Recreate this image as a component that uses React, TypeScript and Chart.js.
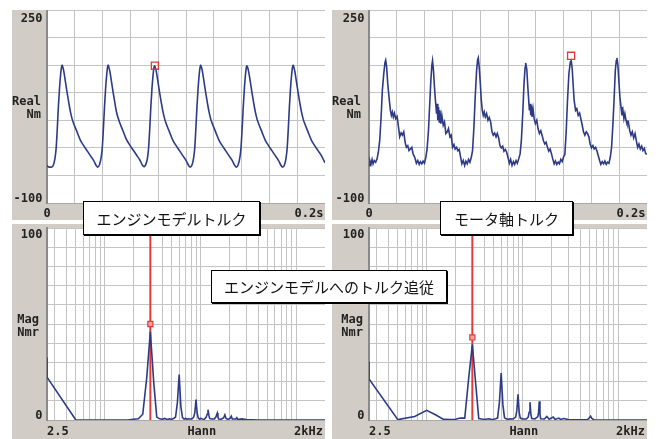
import React, { useEffect, useRef } from "react";
import { Chart, registerables } from "chart.js";

Chart.register(...registerables);

// ---------------- data ----------------
// Engine model torque (time in ms, torque in Nm)
const engineTorque: [number, number][] = [
  [0, -32], [1.5, -35],
  [3.3, -35], [4.6, -31], [5.8, -18], [6.6, 0], [7.4, 35], [8.2, 75], [9.0, 108], [9.8, 133], [10.4, 146], [10.8, 150],
  [11.2, 148], [12.0, 140], [13.2, 121], [14.4, 101], [15.6, 83], [16.8, 66], [18.0, 53], [19.2, 44], [21.6, 29], [24.0, 14], [26.4, 4], [28.8, -5], [31.2, -14], [33.6, -23], [35.4, -32],
  [36.5, -35], [37.8, -30], [39.0, -17], [39.8, 1], [40.6, 36], [41.4, 76], [42.2, 109], [43.0, 134], [43.6, 147], [44.0, 150],
  [44.4, 147], [45.2, 139], [46.4, 120], [47.6, 100], [48.8, 82], [50.0, 65], [51.2, 54], [52.4, 45], [54.8, 30], [57.2, 15], [59.6, 5], [62.0, -4], [64.4, -13], [66.8, -22], [68.6, -31],
  [69.8, -34], [71.1, -30], [72.3, -18], [73.1, 0], [73.9, 34], [74.7, 74], [75.5, 107], [76.3, 132], [76.9, 145], [77.3, 149],
  [77.7, 147], [78.5, 140], [79.7, 122], [80.9, 102], [82.1, 84], [83.3, 67], [84.5, 54], [85.7, 44], [88.1, 29], [90.5, 14], [92.9, 4], [95.3, -5], [97.7, -14], [100.1, -23], [101.9, -32],
  [103.0, -35], [104.3, -31], [105.5, -18], [106.3, 0], [107.1, 35], [107.9, 75], [108.7, 108], [109.5, 133], [110.1, 146], [110.5, 150],
  [110.9, 148], [111.7, 140], [112.9, 121], [114.1, 101], [115.3, 83], [116.5, 66], [117.7, 53], [118.9, 44], [121.3, 29], [123.7, 14], [126.1, 4], [128.5, -5], [130.9, -14], [133.3, -23], [135.1, -32],
  [136.3, -35], [137.6, -30], [138.8, -17], [139.6, 1], [140.4, 36], [141.2, 75], [142.0, 108], [142.8, 133], [143.4, 146], [143.8, 149],
  [144.2, 147], [145.0, 139], [146.2, 121], [147.4, 101], [148.6, 83], [149.8, 66], [151.0, 53], [152.2, 44], [154.6, 29], [157.0, 14], [159.4, 4], [161.8, -5], [164.2, -14], [166.6, -23], [168.4, -32],
  [169.5, -35], [170.8, -31], [172.0, -18], [172.8, 0], [173.6, 35], [174.4, 75], [175.2, 108], [176.0, 133], [176.6, 146], [177.0, 150],
  [177.4, 148], [178.2, 140], [179.4, 121], [180.6, 101], [181.8, 83], [183.0, 66], [184.2, 53], [185.4, 44], [187.8, 29], [190.2, 14], [192.6, 4], [195.0, -5], [197.4, -14], [200.0, -27],
];
const engineMarker: [number, number] = [77.6, 149];

// Motor shaft torque (time in ms, torque in Nm)
const motorTorque: [number, number][] = [
  [0, -32], [0.7, -24], [1.4, -30], [2.2, -21], [2.9, -29], [3.8, -23], [4.8, -26], [5.8, -20], [6.7, -8], [7.7, 13], [8.7, 56], [9.6, 104], [10.6, 134], [11.5, 155], [12.0, 159],
  [12.7, 146], [13.5, 116], [14.4, 92], [15.4, 68], [16.1, 59], [16.8, 65], [17.5, 56], [18.3, 63], [19.2, 53], [20.2, 57], [21.2, 38], [22.1, 20], [23.1, 27], [24.0, 23], [25.0, 29], [26.0, 10], [26.9, 1], [27.9, 4], [28.8, -5], [29.8, -2], [30.8, 1], [31.7, -11], [32.9, -17], [34.1, -28], [35.1, -23], [36.1, -30], [37.0, -25], [38.0, -29], [38.9, -24], [39.9, -28], [40.9, -17], [41.8, -2], [42.8, 32], [43.8, 86], [44.5, 122], [45.2, 149], [45.7, 158],
  [46.4, 140], [47.1, 110], [47.8, 86], [48.6, 62], [49.1, 80], [49.5, 50], [50.0, 74], [50.5, 47], [51.0, 68], [51.7, 44], [52.4, 59], [53.4, 41], [54.3, 47], [55.3, 26], [56.3, 29], [57.2, 35], [58.2, 20], [59.1, 23], [60.1, 1], [61.1, 6], [62.0, -2], [63.0, 1], [63.9, -5], [64.9, -3], [65.9, -17], [66.8, -29], [67.8, -23], [68.8, -32], [69.7, -24], [70.7, -29], [71.6, -21], [72.6, -26], [73.6, -17], [74.5, -5], [75.5, 38], [76.4, 92], [77.4, 140], [78.1, 159], [78.6, 163],
  [79.3, 146], [80.1, 116], [80.8, 86], [81.5, 68], [82.2, 59], [82.9, 65], [83.7, 56], [84.6, 62], [85.6, 50], [86.5, 55], [87.5, 47], [88.5, 29], [89.4, 23], [90.4, 27], [91.4, 20], [92.3, 26], [93.3, 18], [94.2, 4], [95.2, 0], [96.2, 3], [97.1, -6], [98.1, -3], [99.0, -8], [100.0, -17], [101.0, -28], [101.9, -21], [102.9, -32], [103.9, -25], [104.8, -30], [105.8, -23], [106.7, -28], [107.7, -20], [108.7, -11], [109.6, 13], [110.6, 62], [111.5, 116], [112.3, 146], [112.7, 154],
  [113.5, 143], [114.2, 113], [114.9, 86], [115.4, 68], [115.9, 80], [116.4, 59], [116.8, 77], [117.3, 56], [118.0, 71], [118.8, 53], [119.7, 44], [120.7, 50], [121.6, 35], [122.6, 26], [123.6, 31], [124.5, 23], [125.5, 13], [126.5, 7], [127.4, 10], [128.4, 1], [129.3, -6], [130.3, -2], [131.3, -11], [132.2, -20], [133.2, -29], [134.1, -24], [135.1, -30], [136.1, -26], [137.0, -29], [138.0, -21], [139.0, -25], [139.9, -17], [140.9, -12], [141.8, 26], [142.8, 86], [143.8, 134], [144.8, 155], [145.5, 158],
  [146.2, 143], [146.9, 113], [147.6, 86], [148.6, 68], [149.5, 71], [150.5, 59], [151.5, 63], [152.4, 53], [153.4, 41], [154.3, 29], [155.3, 23], [156.3, 29], [157.2, 26], [158.2, 20], [159.1, 7], [160.1, 0], [161.1, 4], [162.0, -2], [163.0, 1], [163.9, -5], [164.9, -14], [165.9, -23], [166.8, -30], [167.8, -25], [168.8, -29], [169.7, -24], [170.7, -30], [171.6, -26], [172.6, -28], [173.6, -17], [174.5, 1], [175.5, 44], [176.5, 98], [177.2, 140], [177.9, 158], [178.4, 163],
  [179.1, 149], [179.8, 119], [180.5, 92], [181.3, 74], [182.0, 59], [182.7, 68], [183.4, 53], [184.1, 62], [184.9, 50], [185.6, 44], [186.6, 47], [187.5, 32], [188.5, 23], [189.4, 29], [190.4, 18], [191.4, 26], [192.3, 13], [193.3, 1], [194.2, 7], [195.2, -2], [196.2, 3], [197.1, -5], [198.1, -1], [199.0, -10], [199.8, -12],
];
const motorMarker: [number, number] = [145.4, 167];

// Engine model torque spectrum (Hz, Nmr)
const engineSpectrum: [number, number][] = [
  [2.5, 32.5], [2.5, 22.3], [5, 0], [7.5, 0], [10, 0], [12.5, 0], [15, 0], [17.5, 0], [20, 0.4], [22.5, 0.6], [25, 3], [27.5, 22], [30, 46], [32.5, 20], [35, 1.5],
  [37.5, 0.6], [40, 0.4], [42.5, 0.8], [45, 0.3], [47.5, 0.6], [50, 0.4], [52.5, 0.8], [55, 1.5], [57.5, 9], [60, 23.7], [62.5, 7], [65, 1.2], [67.5, 0.5], [70, 0.8], [72.5, 0.4],
  [75, 0.6], [77.5, 0.5], [80, 0.6], [82.5, 0.8], [85, 1.5], [87.5, 4], [90, 10.7], [92.5, 3.5], [95, 1], [97.5, 0.5], [100, 0.8], [105, 0.5], [110, 0.4], [115, 1.5], [117.5, 3],
  [120, 5.4], [122.5, 2.5], [125, 0.8], [130, 0.5], [140, 0.6], [145, 1.5], [147.5, 2.6], [150, 3.6], [152.5, 1.5], [155, 0.5], [165, 0.4], [175, 1.2], [180, 2.7], [185, 0.8],
  [195, 0.3], [205, 1], [210, 2.0], [215, 0.5], [235, 0.6], [240, 1.2], [245, 0.3], [270, 0.6], [300, 0.2], [400, 0], [2000, 0],
];
const engineSpecMarker: [number, number] = [30, 50];

// Motor shaft torque spectrum (Hz, Nmr)
const motorSpectrum: [number, number][] = [
  [2.5, 30.4], [2.5, 21.4], [5, 0.2], [7.5, 1.8], [10, 5], [12.5, 2.6], [15, 0.3], [17.5, 0.2], [20, 0.4], [22.5, 1.0], [25, 1], [27.5, 22], [30, 39.3], [32.5, 19], [35, 0.8],
  [37.5, 0.5], [40, 0.3], [42.5, 0.5], [45, 0.6], [47.5, 0.3], [50, 0.4], [52.5, 0.6], [55, 1], [57.5, 9], [60, 24.5], [62.5, 8], [65, 1.2], [67.5, 0.6], [70, 0.4], [75, 0.6],
  [80, 0.5], [85, 1.5], [87.5, 5], [90, 13.4], [92.5, 4], [95, 1], [100, 0.6], [110, 0.5], [115, 1.5], [117.5, 4], [120, 9.3], [122.5, 3], [125, 0.8], [135, 0.6], [145, 1.8],
  [147.5, 4], [150, 9.8], [152.5, 3], [155, 0.6], [170, 0.5], [180, 1.8], [190, 0.4], [210, 1.5], [220, 0.3], [240, 1], [250, 0.3], [270, 0.8], [300, 0.2], [350, 0.1],
  [480, 0.2], [500, 1.2], [515, 2], [530, 0.8], [560, 0.1], [2000, 0],
];
const motorSpecMarker: [number, number] = [30, 43];
const cursorFreqHz = 30;

// Axis text and grids
const timeAxisLabels = ["0", "0.2s"];
const realAxisLabels = ["250", "-100"];
const realAxisName = ["Real", "Nm"];
const magAxisLabels = ["100", "0"];
const magAxisName = ["Mag", "Nmr"];
const freqAxisLabels = ["2.5", "Hann", "2kHz"];
const freqGridHz = [3, 4, 5, 6, 7, 8, 9, 10, 20, 30, 40, 50, 60, 70, 80, 90, 100, 200, 300, 400, 500, 600, 700, 800, 900, 1000, 2000];
const annotationTexts = ["エンジンモデルトルク", "モータ軸トルク", "エンジンモデルへのトルク追従"];

// ---------------- styles ----------------
const PANEL_GRAY = "#d1cdc6";
const GRID = "#c4c4c4";
const BLUE = "#2d3a86";
const RED = "#e03c3c";
const TEXT = "#222222";
const LABEL_FONT = 'bold 12px "DejaVu Sans Mono"';

type TextCfg = {
  kind: "time" | "freq";
  yLabels: string[];
  name: string[];
  xLabels: string[];
  nameGap: number;
  yTopBase: number;
  xBase: number;
};

function makeBgPlugin() {
  return {
    id: "panelBg",
    beforeDraw(chart: any) {
      const { ctx, chartArea: a, width, height } = chart;
      ctx.save();
      ctx.fillStyle = PANEL_GRAY;
      ctx.fillRect(0, 0, width, height);
      ctx.fillStyle = "#ffffff";
      ctx.fillRect(a.left, a.top, a.right - a.left, a.bottom - a.top);
      ctx.restore();
    },
  };
}

function makeTextPlugin(cfg: TextCfg) {
  return {
    id: "panelText",
    afterDraw(chart: any) {
      const { ctx, chartArea: a } = chart;
      ctx.save();
      ctx.font = LABEL_FONT;
      ctx.fillStyle = TEXT;
      ctx.textBaseline = "alphabetic";
      ctx.textAlign = "right";
      ctx.fillText(cfg.yLabels[0], a.left - 4.5, a.top + cfg.yTopBase);
      ctx.fillText(cfg.yLabels[1], a.left - 4.5, a.bottom - 1);
      ctx.fillText(cfg.name[0], a.left - cfg.nameGap, a.top + 95);
      ctx.fillText(cfg.name[1], a.left - cfg.nameGap, a.top + 108);
      const xb = a.bottom + cfg.xBase;
      if (cfg.kind === "time") {
        ctx.textAlign = "center";
        ctx.fillText(cfg.xLabels[0], a.left, xb);
        ctx.textAlign = "right";
        ctx.fillText(cfg.xLabels[1], a.right - 1.5, xb);
      } else {
        ctx.textAlign = "left";
        ctx.fillText(cfg.xLabels[0], a.left, xb);
        ctx.textAlign = "center";
        ctx.fillText(cfg.xLabels[1], a.left + (a.right - a.left) * 0.557, xb);
        ctx.textAlign = "right";
        ctx.fillText(cfg.xLabels[2], a.right - 2, xb);
      }
      ctx.restore();
    },
  };
}

const toXY = (pts: [number, number][]) => pts.map(([x, y]) => ({ x, y }));

function timeConfig(points: [number, number][], marker: [number, number], padLeft: number, nameGap: number, smooth: boolean) {
  return {
    type: "line",
    data: {
      datasets: [
        {
          data: toXY([marker]),
          showLine: false,
          pointStyle: "rect",
          pointRadius: 5,
          borderColor: RED,
          borderWidth: 1.3,
          backgroundColor: "rgba(0,0,0,0)",
        },
        {
          data: toXY(points),
          borderColor: BLUE,
          borderWidth: 1.6,
          pointRadius: 0,
          cubicInterpolationMode: smooth ? "monotone" : "default",
          tension: 0,
        },
      ],
    },
    options: {
      responsive: false,
      animation: false,
      events: [],
      layout: { autoPadding: false, padding: { left: padLeft, top: 0, right: 0, bottom: 17 } },
      plugins: { legend: { display: false }, tooltip: { enabled: false } },
      scales: {
        x: {
          type: "linear",
          min: 0,
          max: 200,
          ticks: { display: false, stepSize: 20 },
          grid: { color: GRID, drawTicks: false },
          border: { color: "#a8a8a8" },
        },
        y: {
          type: "linear",
          min: -100,
          max: 250,
          ticks: { display: false, stepSize: 50 },
          grid: { color: GRID, drawTicks: false },
          border: { color: "#8a8a8a", width: 2 },
        },
      },
    },
    plugins: [
      makeBgPlugin(),
      makeTextPlugin({ kind: "time", yLabels: realAxisLabels, name: realAxisName, xLabels: timeAxisLabels, nameGap, yTopBase: 12, xBase: 13.5 }),
    ],
  };
}

function freqConfig(points: [number, number][], marker: [number, number], padLeft: number, nameGap: number) {
  return {
    type: "line",
    data: {
      datasets: [
        {
          data: toXY([marker]),
          showLine: false,
          pointStyle: "rect",
          pointRadius: 3.6,
          borderColor: RED,
          borderWidth: 1.2,
          backgroundColor: "#f3a0a0",
        },
        {
          data: toXY(points),
          borderColor: BLUE,
          borderWidth: 1.6,
          pointRadius: 0,
          tension: 0,
        },
        {
          data: toXY([[cursorFreqHz, 0], [cursorFreqHz, 100]]),
          borderColor: RED,
          borderWidth: 2,
          pointRadius: 0,
        },
      ],
    },
    options: {
      responsive: false,
      animation: false,
      events: [],
      layout: { autoPadding: false, padding: { left: padLeft, top: 4, right: 0, bottom: 19 } },
      plugins: { legend: { display: false }, tooltip: { enabled: false } },
      scales: {
        x: {
          type: "logarithmic",
          min: 2.5,
          max: 2000,
          ticks: { display: false },
          afterBuildTicks: (scale: any) => {
            scale.ticks = freqGridHz.map((v) => ({ value: v }));
          },
          grid: { color: GRID, drawTicks: false },
          border: { color: "#a8a8a8" },
        },
        y: {
          type: "linear",
          min: 0,
          max: 100,
          ticks: { display: false, stepSize: 10 },
          grid: { color: GRID, drawTicks: false },
          border: { color: "#8a8a8a", width: 2 },
        },
      },
    },
    plugins: [
      makeBgPlugin(),
      makeTextPlugin({ kind: "freq", yLabels: magAxisLabels, name: magAxisName, xLabels: freqAxisLabels, nameGap, yTopBase: 10, xBase: 15 }),
    ],
  };
}

type Rect = { x: number; y: number; w: number; h: number };

function PanelChart({ rect, build }: { rect: Rect; build: () => any }) {
  const ref = useRef<HTMLCanvasElement>(null);
  useEffect(() => {
    const chart = new Chart(ref.current as HTMLCanvasElement, build());
    return () => chart.destroy();
  }, []);
  return (
    <canvas
      ref={ref}
      width={rect.w}
      height={rect.h}
      style={{ position: "absolute", left: rect.x, top: rect.y, width: rect.w, height: rect.h }}
    />
  );
}

function Note({ text, x, y, w, h }: { text: string; x: number; y: number; w: number; h: number }) {
  return (
    <div
      style={{
        position: "absolute",
        left: x,
        top: y,
        width: w,
        height: h,
        boxSizing: "border-box",
        border: "1px solid #000",
        boxShadow: "1px 1px 0 #000",
        background: "#fff",
        display: "flex",
        alignItems: "center",
        justifyContent: "center",
        fontFamily: '"Noto Sans CJK JP", sans-serif',
        fontSize: 15,
        color: "#111",
        whiteSpace: "nowrap",
      }}
    >
      {text}
    </div>
  );
}

export default function App() {
  return (
    <div style={{ position: "fixed", left: 0, top: 0, width: 659, height: 439, background: "#fff", overflow: "hidden" }}>
      <PanelChart rect={{ x: 12, y: 10, w: 313, h: 210 }} build={() => timeConfig(engineTorque, engineMarker, 35, 6, true)} />
      <PanelChart rect={{ x: 332, y: 10, w: 315, h: 210 }} build={() => timeConfig(motorTorque, motorMarker, 37, 8, false)} />
      <PanelChart rect={{ x: 12, y: 224, w: 313, h: 215 }} build={() => freqConfig(engineSpectrum, engineSpecMarker, 35, 8)} />
      <PanelChart rect={{ x: 332, y: 224, w: 315, h: 215 }} build={() => freqConfig(motorSpectrum, motorSpecMarker, 37, 6)} />
      <Note text={annotationTexts[0]} x={83} y={201} w={177} h={34} />
      <Note text={annotationTexts[1]} x={440} y={201} w={133} h={34} />
      <Note text={annotationTexts[2]} x={211} y={270} w={236} h={33} />
    </div>
  );
}
